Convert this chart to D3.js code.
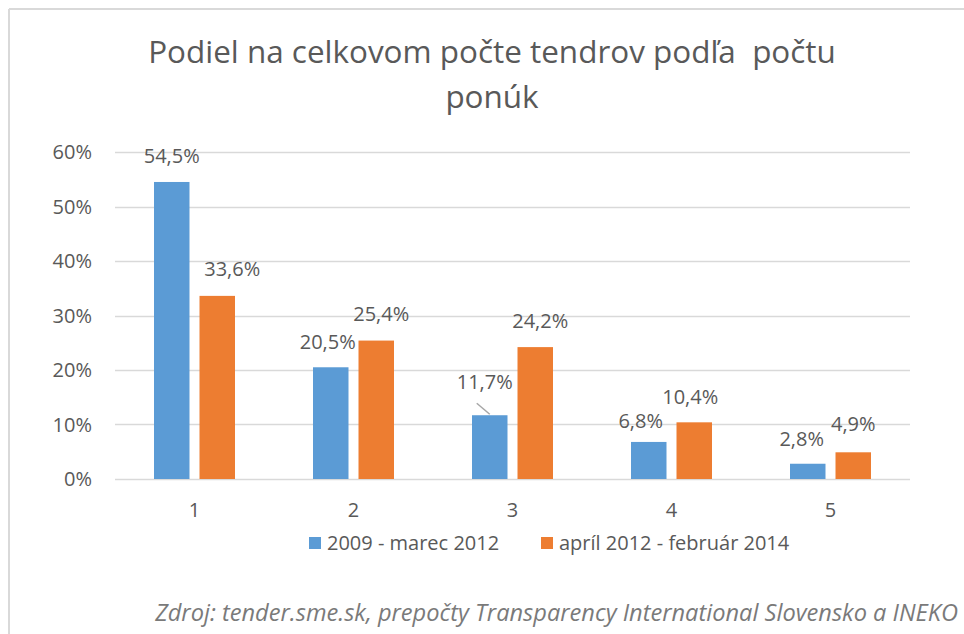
<!DOCTYPE html>
<html><head><meta charset="utf-8">
<script src="https://cdn.jsdelivr.net/npm/d3@7"></script>
<style>body{margin:0;background:#fff}svg{display:block}text{font-family:"Open Sans",sans-serif;white-space:pre}</style>
</head><body>
<script>
const titleLines = ["Podiel na celkovom počte tendrov podľa  počtu", "ponúk"];
const categories = ["1", "2", "3", "4", "5"];
const seriesNames = ["2009 - marec 2012", "apríl 2012 - február 2014"];
const series1 = [0.545, 0.205, 0.117, 0.068, 0.028];
const series2 = [0.336, 0.254, 0.242, 0.104, 0.049];
const yTicks = [0, 0.1, 0.2, 0.3, 0.4, 0.5, 0.6];
const sourceText = "Zdroj: tender.sme.sk, prepočty Transparency International Slovensko a INEKO";

// layout (manual label nudges as in the original chart)
const colors = ["#5B9BD5", "#ED7D31"];
const nudge = [
  [[0,-19],[15,-20]],
  [[-3,-18],[5,-20]],
  [[-5,-26],[5,-19]],
  [[-8,-14],[-4,-18]],
  [[-6,-18],[0,-21]]
];

const W = 964, H = 634;
const svg = d3.select("body").append("svg").attr("width", W).attr("height", H);
const textCol = "#595959";

// frame
svg.append("line").attr("x1",9).attr("x2",W).attr("y1",9).attr("y2",9).attr("stroke","#d9d9d9").attr("stroke-width",2);
svg.append("line").attr("x1",9).attr("x2",9).attr("y1",9).attr("y2",H).attr("stroke","#d9d9d9").attr("stroke-width",2);

const x = d3.scaleBand().domain(categories).range([115, 910]);
const xs = d3.scaleBand().domain(seriesNames).range([0, 81]).paddingInner(0.22);
const groupOff = (x.bandwidth() - 81) / 2;
const y = d3.scaleLinear().domain([0, 0.6]).range([479, 152]);

// gridlines
svg.append("g").selectAll("line").data(yTicks).join("line")
  .attr("x1",115).attr("x2",910).attr("y1",d=>Math.round(y(d))+0.5).attr("y2",d=>Math.round(y(d))+0.5)
  .attr("stroke","#d9d9d9").attr("stroke-width",1.5);

// y axis labels
const fmtPct = d3.format(".0%");
svg.append("g").selectAll("text").data(yTicks).join("text")
  .attr("x",92).attr("y",d=>y(d)+7).attr("text-anchor","end")
  .attr("font-size",20).attr("fill",textCol).text(d=>fmtPct(d));

// x axis labels
svg.append("g").selectAll("text").data(categories).join("text")
  .attr("x",d=>x(d)+x.bandwidth()/2).attr("y",517).attr("text-anchor","middle")
  .attr("font-size",20).attr("fill",textCol).text(d=>d);

const all = [series1, series2];
const fmtLbl = v => (v*100).toFixed(1).replace(".", ",") + "%";

all.forEach((vals, si) => {
  const g = svg.append("g");
  g.selectAll("rect").data(vals).join("rect")
    .attr("x",(d,i)=>x(categories[i]) + groupOff + xs(seriesNames[si]))
    .attr("width",xs.bandwidth())
    .attr("y",d=>y(d)).attr("height",d=>y(0)-y(d))
    .attr("fill",colors[si]);
  g.selectAll("text").data(vals).join("text")
    .attr("x",(d,i)=>x(categories[i]) + groupOff + xs(seriesNames[si]) + xs.bandwidth()/2 + nudge[i][si][0])
    .attr("y",(d,i)=>y(d) + nudge[i][si][1])
    .attr("text-anchor","middle").attr("font-size",20).attr("fill",textCol)
    .text(d=>fmtLbl(d));
});

// leader line for category 3, series 1
{
  const i = 2, si = 0;
  const cx = x(categories[i]) + groupOff + xs(seriesNames[si]) + xs.bandwidth()/2;
  svg.append("line").attr("x1",cx-13).attr("y1",y(series1[i])-12).attr("x2",cx).attr("y2",y(series1[i])-1)
    .attr("stroke","#a6a6a6").attr("stroke-width",1.5);
}

// title
const t = svg.append("g");
const tl = t.selectAll("text").data(titleLines).join("text")
  .attr("x",492).attr("y",(d,i)=>63+i*45).attr("text-anchor","middle")
  .attr("font-size",30).attr("fill",textCol).text(d=>d);
const w0 = tl.nodes()[0].getComputedTextLength();
const tfs = 30 * 688 / w0;
tl.attr("font-size", tfs);

// legend
const legX = [309, 541];
const lg = svg.append("g");
seriesNames.forEach((n, i) => {
  lg.append("rect").attr("x",legX[i]).attr("y",537).attr("width",12).attr("height",12).attr("fill",colors[i]);
  lg.append("text").attr("x",legX[i]+18).attr("y",550).attr("font-size",20).attr("fill",textCol).text(n);
});

// source
const src = svg.append("text").attr("x",958).attr("y",621).attr("text-anchor","end")
  .attr("font-style","italic").attr("font-size",22).attr("fill","#7a7a7a").text(sourceText);
const sw = src.node().getComputedTextLength();
src.attr("font-size", 22 * 803 / sw);
</script>
</body></html>
